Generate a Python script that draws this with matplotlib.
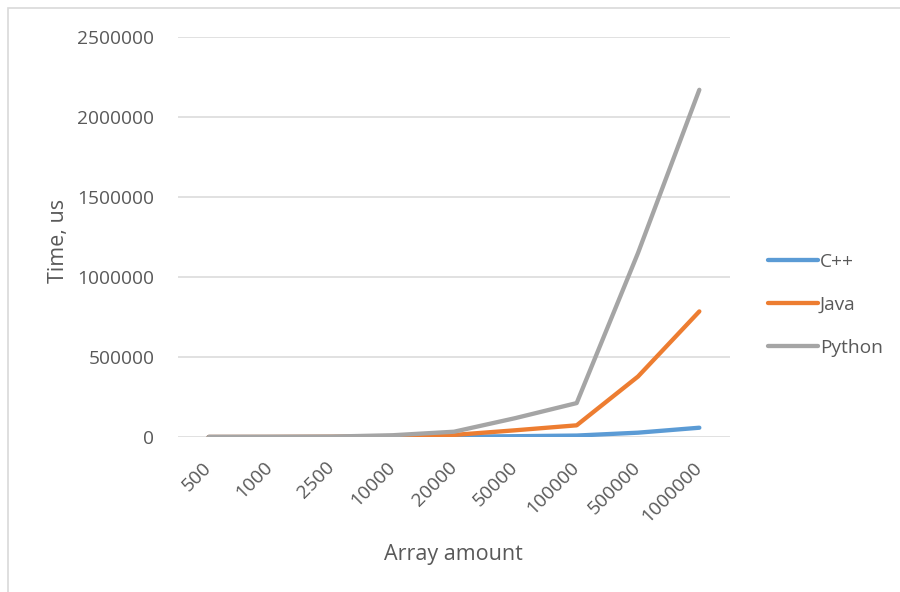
import matplotlib
matplotlib.use("Agg")
import matplotlib.pyplot as plt
from matplotlib.patches import Rectangle

# Array sizes tested and measured run time (microseconds)
sizes = ["500", "1000", "2500", "10000", "20000", "50000", "100000", "500000", "1000000"]
cpp_times = [50, 100, 250, 1000, 2000, 5000, 9000, 27000, 58000]
java_times = [300, 600, 1500, 4000, 13000, 42000, 73000, 378000, 785000]
python_times = [400, 900, 2500, 11000, 33000, 118000, 212000, 1150000, 2170000]

series_names = ["C++", "Java", "Python"]
series_values = [cpp_times, java_times, python_times]
series_colors = ["#5B9BD5", "#ED7D31", "#A5A5A5"]

y_ticks = [0, 500000, 1000000, 1500000, 2000000, 2500000]

plt.rcParams["font.family"] = ["Open Sans", "DejaVu Sans"]
text_color = "#595959"
grid_color = "#D9D9D9"
fs = 13.8
title_fs = 15.5

fig = plt.figure(figsize=(9.0, 5.92), dpi=100)
fig.patch.set_facecolor("white")

# thin outer frame of the chart area
fig.patches.append(Rectangle((8 / 900, -0.05), 1.2, 1 - 8 / 592 + 0.05,
                             transform=fig.transFigure, fill=False,
                             edgecolor=grid_color, linewidth=1.2, zorder=0))

ax = fig.add_axes([178 / 900, 1 - 437 / 592, 552 / 900, 400 / 592])

x = list(range(len(sizes)))
for name, vals, col in zip(series_names, series_values, series_colors):
    ax.plot(x, vals, color=col, linewidth=3.1, solid_capstyle="round",
            solid_joinstyle="round", label=name, zorder=3)

ax.set_xlim(-0.5, len(sizes) - 0.5)
ax.set_ylim(0, 2500000)
ax.set_yticks(y_ticks)
ax.set_yticklabels([str(v) for v in y_ticks])
ax.set_xticks(x)
ax.set_xticklabels(sizes)

ax.grid(axis="y", color=grid_color, linewidth=1.1, zorder=0)
ax.grid(axis="x", visible=False)
for s in ax.spines.values():
    s.set_visible(False)

ax.tick_params(axis="both", length=0, labelsize=fs, labelcolor=text_color)
ax.tick_params(axis="y", pad=17)
ax.tick_params(axis="x", pad=20)

for lbl in ax.get_xticklabels():
    lbl.set_rotation(45)
    lbl.set_ha("right")
    lbl.set_va("center")
    lbl.set_rotation_mode("anchor")

ax.set_xlabel("Array amount", fontsize=title_fs, color=text_color)
ax.xaxis.set_label_coords((453 - 178) / 552, (437 - 544) / 400)
ax.set_ylabel("Time, us", fontsize=title_fs, color=text_color)
ax.yaxis.set_label_coords((69 - 178) / 552, 0.49)

leg = ax.legend(loc="upper left", bbox_to_anchor=(768 / 900, 1 - 253 / 592),
                bbox_transform=fig.transFigure, frameon=False, fontsize=fs,
                handlelength=2.6, handletextpad=0.1, labelspacing=1.3,
                borderaxespad=0, borderpad=0)
for t in leg.get_texts():
    t.set_color(text_color)
for h in leg.get_lines():
    h.set_linewidth(3.1)

fig.savefig("out.png", dpi=100, facecolor="white")
